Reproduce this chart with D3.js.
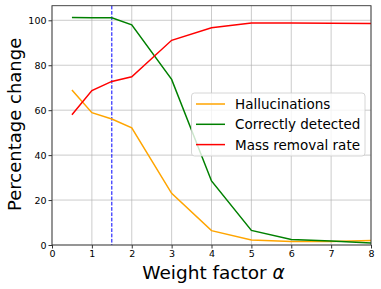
<!DOCTYPE html>
<html><head><meta charset="utf-8">
<script src="https://cdn.jsdelivr.net/npm/d3@7"></script>
<style>body{margin:0;background:#fff}svg{display:block;font-family:"DejaVu Sans",sans-serif}</style>
</head><body><svg id="c" width="381" height="289"></svg>
<script>
const alphas = [0.5, 1, 1.5, 2, 3, 4, 5, 6, 7, 8];
const hallucinations = [69.0, 58.9, 56.1, 52.1, 23.0, 6.4, 2.2, 1.6, 1.6, 2.0];
const correctlyDetected = [101.2, 101.1, 101.1, 98.0, 73.7, 28.5, 6.5, 2.5, 1.8, 0.9];
const massRemoval = [58.0, 68.7, 72.8, 74.9, 91.1, 96.7, 98.8, 98.8, 98.7, 98.6];
const seriesNames = ["Hallucinations", "Correctly detected", "Mass removal rate"];
const seriesColors = ["orange", "green", "red"];
const xTicks = [0,1,2,3,4,5,6,7,8];
const yTicks = [0,20,40,60,80,100];
const threshold = 1.5;

const svg = d3.select("#c");
const m = {l:52, r:371, t:5.7, b:245};
const x = d3.scaleLinear().domain([0,8]).range([m.l, m.r]);
const y = d3.scaleLinear().domain([0,106.5]).range([m.b, m.t]);

// grid
svg.append("g").selectAll("line").data(xTicks).join("line")
  .attr("x1",d=>x(d)).attr("x2",d=>x(d)).attr("y1",m.t).attr("y2",m.b)
  .attr("stroke","#b0b0b0").attr("stroke-width",0.8).attr("opacity",0.8);
svg.append("g").selectAll("line").data(yTicks).join("line")
  .attr("y1",d=>y(d)).attr("y2",d=>y(d)).attr("x1",m.l).attr("x2",m.r)
  .attr("stroke","#b0b0b0").attr("stroke-width",0.8).attr("opacity",0.8);

// threshold line
svg.append("line").attr("x1",x(threshold)).attr("x2",x(threshold)).attr("y1",m.t).attr("y2",m.b)
  .attr("stroke","blue").attr("stroke-width",1).attr("stroke-dasharray","3.7,1.6");

const allSeries = [hallucinations, correctlyDetected, massRemoval];
const line = d3.line().x((d,i)=>x(alphas[i])).y(d=>y(d));
allSeries.forEach((s,k)=>{
  svg.append("path").datum(s).attr("d",line).attr("fill","none")
    .attr("stroke",seriesColors[k]).attr("stroke-width",1.5);
});

// axes
const xa = svg.append("g").attr("transform",`translate(0,${m.b})`)
  .call(d3.axisBottom(x).tickValues(xTicks).tickSize(3.5).tickPadding(2));
const ya = svg.append("g").attr("transform",`translate(${m.l},0)`)
  .call(d3.axisLeft(y).tickValues(yTicks).tickSize(3.5).tickPadding(2));
[xa,ya].forEach(a=>{
  a.selectAll("text").attr("font-size",9.5).attr("fill","#000").attr("font-family","DejaVu Sans");
  a.selectAll("line").attr("stroke","#333");
  a.select(".domain").remove();
});
// frame
svg.append("rect").attr("x",m.l).attr("y",m.t).attr("width",m.r-m.l).attr("height",m.b-m.t)
  .attr("fill","none").attr("stroke","#333").attr("stroke-width",0.9);

// labels
svg.append("text").attr("x",(m.l+m.r)/2+2).attr("y",279).attr("text-anchor","middle")
  .attr("font-size",18.5).text("Weight factor ").append("tspan").attr("font-style","italic").text("α");
svg.append("text").attr("transform",`translate(21,${(m.t+m.b)/2 - 1}) rotate(-90)`)
  .attr("text-anchor","middle").attr("font-size",18).text("Percentage change");

// legend
const lg = svg.append("g").attr("transform","translate(191.5,93)");
lg.append("rect").attr("width",173.5).attr("height",63).attr("rx",3)
  .attr("fill","white").attr("fill-opacity",0.8).attr("stroke","#ccc").attr("stroke-width",0.8);
seriesNames.forEach((n,i)=>{
  const yy = 11 + i*20.3;
  lg.append("line").attr("x1",4.5).attr("x2",33.5).attr("y1",yy).attr("y2",yy)
    .attr("stroke",seriesColors[i]).attr("stroke-width",1.5);
  lg.append("text").attr("x",43.5).attr("y",yy+5).attr("font-size",13.5).text(n);
});
</script></body></html>
